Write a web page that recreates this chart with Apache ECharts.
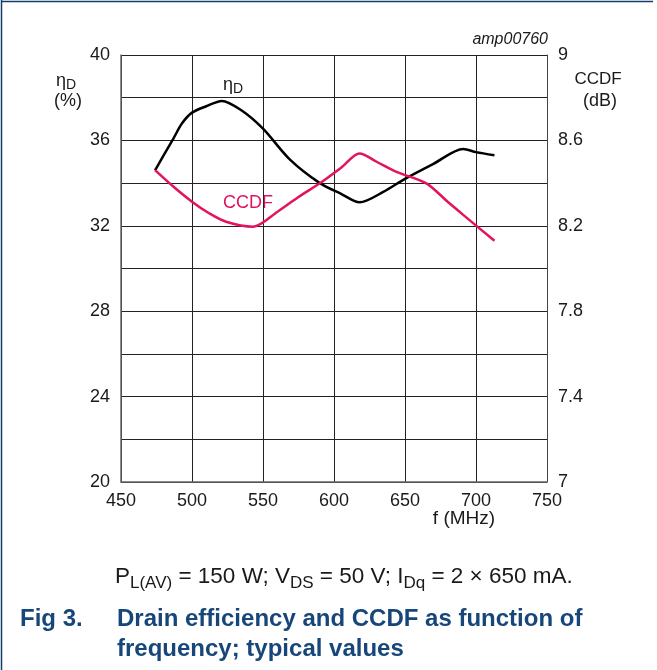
<!DOCTYPE html>
<html><head><meta charset="utf-8">
<script src="https://cdn.jsdelivr.net/npm/echarts@6/dist/echarts.min.js"></script>
<style>html,body{margin:0;padding:0;background:#fff}#c{width:657px;height:670px}</style>
</head><body><div id="c"></div>
<script>
// ---- data ----
const etaFreq   = [474, 480, 487, 493, 500, 510, 521, 535, 550, 569, 590, 605, 618, 635, 650, 670, 691, 700, 713];
const etaValues = [34.6, 35.3, 36.1, 36.8, 37.3, 37.6, 37.85, 37.4, 36.55, 35.1, 34.0, 33.5, 33.1, 33.6, 34.2, 34.9, 35.6, 35.45, 35.3];
const ccdfFreq   = [474, 487, 500, 512, 524, 543, 560, 575, 590, 605, 618, 630, 644, 665, 680, 691, 713];
const ccdfValues = [8.461, 8.383, 8.313, 8.259, 8.219, 8.196, 8.265, 8.335, 8.399, 8.472, 8.539, 8.50, 8.453, 8.399, 8.313, 8.251, 8.13];
const leftTickLabels  = [20, 24, 28, 32, 36, 40];
const rightTickLabels = [7, 7.4, 7.8, 8.2, 8.6, 9];

const FONT = '"Liberation Sans", Arial, sans-serif';
const ctx = document.createElement('canvas').getContext('2d');
function run(parts, x, y, size, weight, color, subSize, subDy, align) {
  const fontOf = (fs, w) => `${w} ${fs}px ${FONT}`;
  let total = 0;
  parts.forEach(p => { ctx.font = fontOf(p.sub ? subSize : size, weight); total += ctx.measureText(p.t).width; });
  let cx = align === 'center' ? x - total / 2 : x;
  const els = [];
  parts.forEach(p => {
    const fs = p.sub ? subSize : size;
    const font = fontOf(fs, weight);
    ctx.font = font;
    els.push({type: 'text', x: cx, y: y + (p.sub ? subDy : 0), silent: true,
      style: {text: p.t, font: font, fill: color, textAlign: 'left', textVerticalAlign: 'middle'}});
    cx += ctx.measureText(p.t).width;
  });
  return els;
}
const near = (arr, v) => arr.some(a => Math.abs(a - v) < 1e-6);
const fmtNum = v => String(Math.round(v * 10) / 10);

const blue = '#17467a';
const pink = '#e2135f';
const txt = '#1a1a1a';

const graphics = [].concat(
  [{type: 'line', silent: true, shape: {x1: 1.5, y1: 0, x2: 1.5, y2: 670}, style: {stroke: '#123d6b', lineWidth: 1.5}},
   {type: 'line', silent: true, shape: {x1: 1, y1: 1.5, x2: 653, y2: 1.5}, style: {stroke: '#123d6b', lineWidth: 1.5}}],
  run([{t: 'η'}, {t: 'D', sub: true}], 56, 81, 18, 'normal', txt, 14, 4, 'left'),
  run([{t: '(%)'}], 68, 101, 18, 'normal', txt, 14, 0, 'center'),
  run([{t: 'CCDF'}], 598, 79, 17, 'normal', txt, 14, 0, 'center'),
  run([{t: '(dB)'}], 600, 101, 18, 'normal', txt, 14, 0, 'center'),
  run([{t: 'η'}, {t: 'D', sub: true}], 223, 85, 18, 'normal', txt, 14, 4, 'left'),
  run([{t: 'CCDF'}], 223, 203, 18, 'normal', pink, 14, 0, 'left'),
  run([{t: 'f (MHz)'}], 464, 519, 19, 'normal', txt, 14, 0, 'center'),
  [{type: 'text', x: 548, y: 40, silent: true, style: {text: 'amp00760', font: `italic 16px ${FONT}`, fill: txt, textAlign: 'right', textVerticalAlign: 'middle'}}],
  run([{t: 'P'}, {t: 'L(AV)', sub: true}, {t: ' = 150 W; V'}, {t: 'DS', sub: true}, {t: ' = 50 V; I'}, {t: 'Dq', sub: true}, {t: ' = 2 × 650 mA.'}],
      115, 577, 22.5, 'normal', txt, 17, 6, 'left'),
  run([{t: 'Fig 3.'}], 20, 619, 24, 'bold', blue, 14, 0, 'left'),
  run([{t: 'Drain efficiency and CCDF as function of'}], 117, 619, 24, 'bold', blue, 14, 0, 'left'),
  run([{t: 'frequency; typical values'}], 117, 649, 24, 'bold', blue, 14, 0, 'left')
);

const chart = echarts.init(document.getElementById('c'), null, {renderer: 'canvas'});
chart.setOption({
  animation: false,
  backgroundColor: '#fff',
  grid: {left: 121, top: 55, width: 426, height: 427, containLabel: false},
  xAxis: {
    type: 'value', min: 450, max: 750, interval: 50,
    axisLine: {show: true, lineStyle: {color: '#666', width: 1.5}},
    axisTick: {show: false},
    splitLine: {show: true, lineStyle: {color: '#222', width: 1}},
    axisLabel: {color: txt, fontSize: 18, fontFamily: FONT, margin: 10}
  },
  yAxis: [
    {type: 'value', min: 20, max: 40, interval: 2, position: 'left',
     axisLine: {show: true, lineStyle: {color: '#666', width: 1.5}},
     axisTick: {show: false},
     splitLine: {show: true, lineStyle: {color: '#222', width: 1}},
     axisLabel: {color: txt, fontSize: 18, fontFamily: FONT, margin: 11,
       formatter: v => near(leftTickLabels, v) ? fmtNum(v) : ''}},
    {type: 'value', min: 7, max: 9, interval: 0.2, position: 'right',
     axisLine: {show: true, lineStyle: {color: '#444', width: 1}},
     axisTick: {show: false},
     splitLine: {show: false},
     axisLabel: {color: txt, fontSize: 18, fontFamily: FONT, margin: 11,
       formatter: v => near(rightTickLabels, v) ? fmtNum(v) : ''}}
  ],
  series: [
    {type: 'line', name: 'ηD', yAxisIndex: 0, data: etaFreq.map((f, i) => [f, etaValues[i]]),
     showSymbol: false, smooth: 0.3, lineStyle: {color: '#000', width: 2.5}, z: 3},
    {type: 'line', name: 'CCDF', yAxisIndex: 1, data: ccdfFreq.map((f, i) => [f, ccdfValues[i]]),
     showSymbol: false, smooth: 0.3, lineStyle: {color: pink, width: 2.5}, z: 4}
  ],
  graphic: graphics
});
</script></body></html>
